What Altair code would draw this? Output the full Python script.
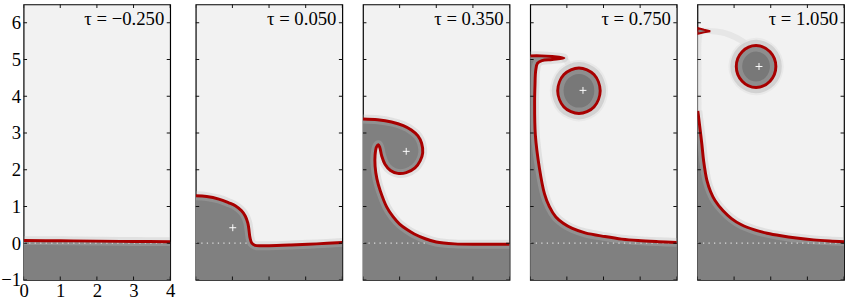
import altair as alt
import pandas as pd

LABELS = ["τ = −0.250", "τ = 0.050", "τ = 0.350", "τ = 0.750", "τ = 1.050"]
X_TICKS = [0, 1, 2, 3, 4]
Y_TICKS = [-1, 0, 1, 2, 3, 4, 5, 6]

# interfaces (heavy fluid lies left of / below each curve)
IF1_X = [0.0, 1.0, 2.0, 3.0, 4.0]
IF1_Y = [0.07, 0.065, 0.055, 0.045, 0.04]

IF2_X = [0.0, 0.3, 0.63, 0.9, 1.08, 1.25, 1.35, 1.42, 1.45, 1.48, 1.53, 1.62, 1.8, 2.0, 2.6, 3.3, 4.0]
IF2_Y = [1.29, 1.27, 1.2, 1.1, 1.02, 0.88, 0.74, 0.55, 0.38, 0.15, 0.0, -0.06, -0.07, -0.07, -0.05, -0.02, 0.02]

IF3_X = [0.0, 0.4, 0.78, 1.1, 1.32, 1.5, 1.6, 1.63, 1.56, 1.42, 1.18, 0.95, 0.75, 0.6, 0.51, 0.46,
         0.42, 0.37, 0.33, 0.33, 0.38, 0.47, 0.65, 0.82, 1.0, 1.2, 1.4, 1.7, 2.0, 2.5, 3.2, 4.0]
IF3_Y = [3.38, 3.36, 3.3, 3.2, 3.08, 2.92, 2.72, 2.46, 2.24, 2.05, 1.92, 1.9, 1.98, 2.15, 2.38, 2.6,
         2.68, 2.62, 2.4, 2.1, 1.75, 1.43, 0.98, 0.72, 0.52, 0.37, 0.25, 0.12, 0.03, -0.02, -0.03, -0.03]

IF4_X = [0.0, 0.3, 0.6, 0.92, 0.6, 0.32, 0.2, 0.15, 0.13, 0.12, 0.14, 0.25, 0.39, 0.52, 0.7, 0.9,
         1.15, 1.5, 2.04, 2.5, 2.94, 3.5, 4.0]
IF4_Y = [5.1, 5.1, 5.08, 5.04, 5.0, 4.97, 4.9, 4.7, 4.3, 3.84, 2.95, 2.05, 1.34, 1.0, 0.71, 0.54,
         0.4, 0.28, 0.18, 0.11, 0.07, 0.04, 0.02]

IF5_X = [0.01, 0.06, 0.12, 0.17, 0.26, 0.36, 0.48, 0.7, 0.93, 1.2, 1.56, 1.9, 2.28, 2.7, 3.17, 3.6, 4.0]
IF5_Y = [3.6, 3.2, 2.7, 2.23, 1.7, 1.4, 1.16, 0.88, 0.67, 0.5, 0.36, 0.27, 0.2, 0.14, 0.09, 0.06, 0.04]

# closed shapes: detached bubbles and the lip left at the wall
B4_X = [1.91, 1.74, 1.33, 0.92, 0.75, 0.92, 1.33, 1.74]
B4_Y = [4.15, 4.59, 4.77, 4.59, 4.15, 3.71, 3.53, 3.71]
B5_X = [2.14, 1.98, 1.6, 1.22, 1.06, 1.22, 1.6, 1.98]
B5_Y = [4.81, 5.21, 5.38, 5.21, 4.81, 4.41, 4.24, 4.41]
LIP5_X = [0.0, 0.18, 0.35, 0.18, 0.0]
LIP5_Y = [5.86, 5.81, 5.77, 5.74, 5.7]

# faint diffused traces
G4_X = [0.9, 1.0, 1.05]
G4_Y = [5.03, 4.95, 4.8]
G5_X = [0.03, 0.03, 0.04, 0.1, 0.4, 0.75, 1.05, 1.3]
G5_Y = [3.6, 4.7, 5.6, 5.77, 5.77, 5.72, 5.6, 5.45]

# centroid markers
PLUS_X = [None, 1.01, 1.18, 1.44, 1.68]
PLUS_Y = [None, 0.42, 2.5, 4.16, 4.81]

# extent of the dotted y = 0 reference line
ZERO_END = [4.0, 1.45, 1.7, 4.0, 4.0]

INTERFACES = [(IF1_X, IF1_Y), (IF2_X, IF2_Y), (IF3_X, IF3_Y), (IF4_X, IF4_Y), (IF5_X, IF5_Y)]
CLOSED = [[], [], [], [(B4_X, B4_Y)], [(B5_X, B5_Y)]]
LIPS = [[], [], [], [], [(LIP5_X, LIP5_Y)]]
GHOSTS = [[], [], [], [(G4_X, G4_Y)], [(G5_X, G5_Y)]]

GREY = "#808080"
LIGHT = "#f2f2f2"
RED = "#a80000"
FONT = "Liberation Serif"


def df_of(shapes):
    rows = []
    for p, (xs, ys) in enumerate(shapes):
        for k, (a, b) in enumerate(zip(xs, ys)):
            rows.append({"part": p, "i": k, "x": a, "y": b})
    return pd.DataFrame(rows, columns=["part", "i", "x", "y"])


def panel(k):
    ix, iy = INTERFACES[k]
    fx = [-0.3] + list(ix) + [4.3, 4.3, -0.3]
    fy = [iy[0]] + list(iy) + [iy[-1], -2.0, -2.0]
    fill_df = df_of([(fx, fy)])
    line_df = df_of([(ix, iy)])
    closed_df = df_of(CLOSED[k])
    lip_df = df_of(LIPS[k])
    ghost_df = df_of(GHOSTS[k])

    if k == 0:
        xaxis = alt.Axis(values=X_TICKS, ticks=False, domain=False, grid=False, labelFont=FONT,
                         labelFontSize=19, labelColor="black", labelPadding=2, labelFlush=False, title=None)
        yaxis = alt.Axis(values=Y_TICKS, ticks=False, domain=False, grid=False, labelFont=FONT,
                         labelFontSize=19, labelColor="black", labelPadding=3, labelFlush=False, title=None)
    else:
        xaxis = None
        yaxis = None
    X = alt.X("x:Q", scale=alt.Scale(domain=[0, 4], nice=False, zero=False), axis=xaxis)
    Y = alt.Y("y:Q", scale=alt.Scale(domain=[-1, 6.5], nice=False, zero=False), axis=yaxis)
    O = alt.Order("i:Q")
    D = alt.Detail("part:N")

    layers = []
    if len(closed_df):
        layers.append(alt.Chart(closed_df).mark_line(interpolate="cardinal-closed", color="#e6e6e6",
                      strokeWidth=16, opacity=0.8, clip=True).encode(X, Y, O, D))
    if len(ghost_df):
        layers.append(alt.Chart(ghost_df).mark_line(interpolate="catmull-rom", color="#e2e2e2",
                      strokeWidth=6, opacity=0.8, clip=True).encode(X, Y, O, D))
    layers.append(alt.Chart(fill_df).mark_line(interpolate="catmull-rom", fill=GREY, strokeOpacity=0,
                  clip=True).encode(X, Y, O, D))
    if len(closed_df):
        layers.append(alt.Chart(closed_df).mark_line(interpolate="cardinal-closed", fill="#787878",
                      strokeOpacity=0, clip=True).encode(X, Y, O, D))
    if len(lip_df):
        layers.append(alt.Chart(lip_df).mark_line(interpolate="linear-closed", fill=GREY,
                      strokeOpacity=0, clip=True).encode(X, Y, O, D))
    # diffuse band around the interfaces
    layers.append(alt.Chart(line_df).mark_line(interpolate="catmull-rom", color="#b8b8b8",
                  strokeWidth=9, opacity=0.3, clip=True).encode(X, Y, O, D))
    if len(closed_df):
        layers.append(alt.Chart(closed_df).mark_line(interpolate="cardinal-closed", color="#b0b0b0",
                      strokeWidth=12, opacity=0.4, clip=True).encode(X, Y, O, D))
    # dotted y = 0 line
    zero_df = pd.DataFrame({"x": [0.0], "x2": [ZERO_END[k]], "y": [0.0]})
    layers.append(alt.Chart(zero_df).mark_rule(color="#dcdcdc", strokeWidth=1.3, strokeDash=[1.3, 4.3],
                  clip=True).encode(X, alt.X2("x2"), Y))
    # red interfaces
    layers.append(alt.Chart(line_df).mark_line(interpolate="catmull-rom", color=RED, strokeWidth=3,
                  clip=True).encode(X, Y, O, D))
    if len(closed_df):
        layers.append(alt.Chart(closed_df).mark_line(interpolate="cardinal-closed", color=RED,
                      strokeWidth=3, clip=True).encode(X, Y, O, D))
    if len(lip_df):
        layers.append(alt.Chart(lip_df).mark_line(interpolate="linear-closed", color=RED,
                      strokeWidth=2, clip=True).encode(X, Y, O, D))
    # centroid marker
    if PLUS_X[k] is not None:
        plus_df = pd.DataFrame({"x": [PLUS_X[k]], "y": [PLUS_Y[k]]})
        layers.append(alt.Chart(plus_df).mark_point(shape="M-1,0L1,0M0,-1L0,1", size=49, filled=False,
                      color="white", strokeWidth=1, opacity=1).encode(X, Y))
    # inward ticks
    xt = pd.DataFrame([{"x": v, "y": yy} for v in X_TICKS for yy in (-1.0, 6.5)])
    yt = pd.DataFrame([{"x": xx, "y": v} for v in Y_TICKS for xx in (0.0, 4.0)])
    layers.append(alt.Chart(xt).mark_tick(orient="vertical", size=7, thickness=1, color="#111111",
                  opacity=1, clip=True).encode(X, Y))
    layers.append(alt.Chart(yt).mark_tick(orient="horizontal", size=7, thickness=1, color="#111111",
                  opacity=1, clip=True).encode(X, Y))
    # time label
    lab_df = pd.DataFrame({"x": [4.0], "y": [6.5], "t": [LABELS[k]]})
    layers.append(alt.Chart(lab_df).mark_text(align="right", baseline="alphabetic", dx=-6, dy=21,
                  font=FONT, fontSize=19, color="black").encode(X, Y, text="t:N"))

    return alt.layer(*layers).properties(width=149, height=280)


chart = alt.hconcat(*[panel(k) for k in range(5)], spacing=19).properties(
    padding={"left": 0, "top": 1, "right": 0, "bottom": 0}
).configure_view(fill=LIGHT, stroke="black", strokeWidth=1.2)

chart.save("out.html", embed_options={"renderer": "svg", "actions": False})
